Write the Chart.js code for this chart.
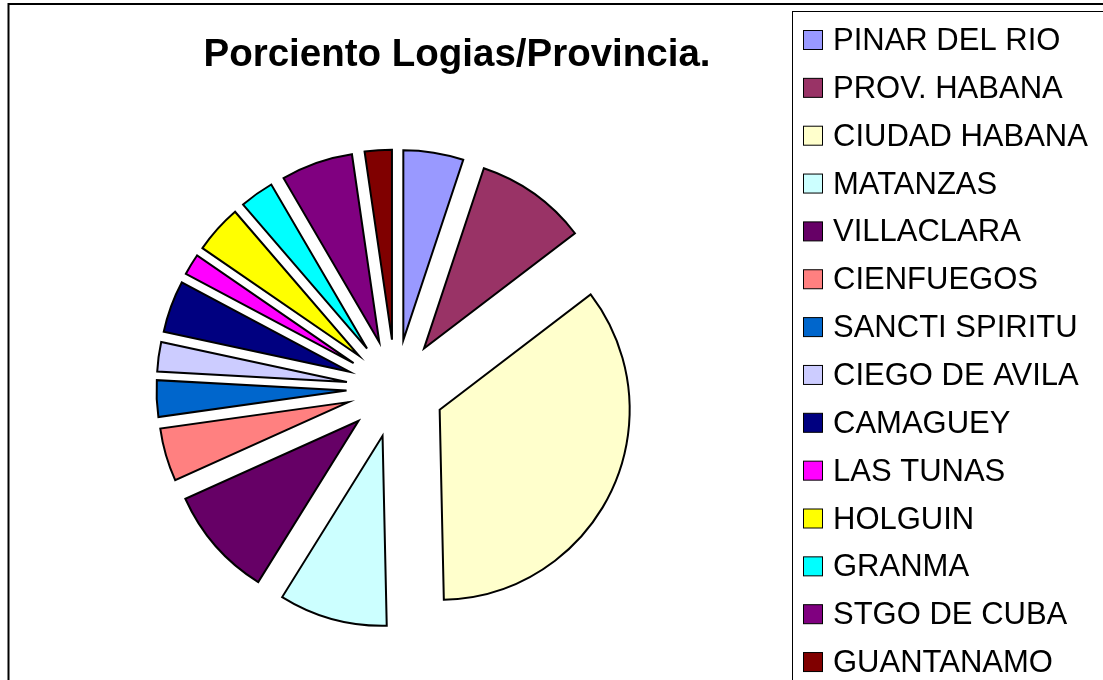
<!DOCTYPE html>
<html>
<head>
  <title>Porciento Logias/Provincia</title>
  <script src="https://cdn.jsdelivr.net/npm/chart.js"></script>
  <style>
    body { margin: 0; background: #fff; }
    canvas { display: block; }
  </style>
</head>
<body>
  <canvas id="pieChart" width="1103" height="680"></canvas>
  <script>
    // data (percent of lodges per province)
    const provinces = ['PINAR DEL RIO', 'PROV. HABANA', 'CIUDAD HABANA', 'MATANZAS', 'VILLACLARA',
      'CIENFUEGOS', 'SANCTI SPIRITU', 'CIEGO DE AVILA', 'CAMAGUEY', 'LAS TUNAS', 'HOLGUIN',
      'GRANMA', 'STGO DE CUBA', 'GUANTANAMO'];
    const percents = [5.1, 9.5, 35.0, 9.2, 9.4, 4.5, 3.1, 2.5, 4.4, 1.8, 4.1, 2.9, 6.1, 2.3];
    const sliceColors = ['#9999FF', '#993366', '#FFFFCC', '#CCFFFF', '#660066', '#FF8080', '#0066CC',
      '#CCCCFF', '#000080', '#FF00FF', '#FFFF00', '#00FFFF', '#800080', '#800000'];
    const chartTitle = 'Porciento Logias/Provincia.';

    const FONT = "'Liberation Sans', Arial, sans-serif";
    const explodeBy = 49;

    // excel style exploded pie: every slice pushed out by the same distance
    const explode = {
      id: 'explode',
      beforeDatasetDraw(chart, args) {
        const ctx = chart.ctx;
        args.meta.data.forEach(arc => {
          const o = arc.options;
          const mid = (arc.startAngle + arc.endAngle) / 2;
          const cx = arc.x + Math.cos(mid) * explodeBy;
          const cy = arc.y + Math.sin(mid) * explodeBy;
          ctx.save();
          ctx.beginPath();
          ctx.moveTo(cx, cy);
          ctx.arc(cx, cy, arc.outerRadius, arc.startAngle, arc.endAngle);
          ctx.closePath();
          ctx.fillStyle = o.backgroundColor;
          ctx.fill();
          ctx.lineWidth = o.borderWidth;
          ctx.strokeStyle = o.borderColor;
          ctx.lineJoin = 'miter';
          ctx.stroke();
          ctx.restore();
        });
        return false;
      }
    };

    // frame, title and boxed legend
    const decor = {
      id: 'decor',
      afterDraw(chart) {
        const ctx = chart.ctx;
        ctx.save();
        ctx.strokeStyle = '#000';
        ctx.lineWidth = 2;
        ctx.strokeRect(8.5, 4, 1200, 1200);
        ctx.lineWidth = 1;
        ctx.strokeRect(792.5, 11.5, 400, 800);

        ctx.fillStyle = '#000';
        ctx.font = 'bold 38.5px ' + FONT;
        ctx.textAlign = 'center';
        ctx.textBaseline = 'alphabetic';
        ctx.fillText(chartTitle, 457, 66);

        ctx.font = '31px ' + FONT;
        ctx.textAlign = 'left';
        chart.data.labels.forEach((label, i) => {
          const base = 50 + i * 47.85;
          ctx.fillStyle = chart.data.datasets[0].backgroundColor[i];
          ctx.fillRect(803.5, base - 19.5, 19, 19);
          ctx.strokeRect(803.5, base - 19.5, 19, 19);
          ctx.fillStyle = '#000';
          ctx.fillText(label, 833, base);
        });
        ctx.restore();
      }
    };

    new Chart(document.getElementById('pieChart'), {
      type: 'pie',
      data: {
        labels: provinces,
        datasets: [{
          data: percents,
          backgroundColor: sliceColors,
          borderColor: '#000',
          borderWidth: 2,
          radius: 190
        }]
      },
      options: {
        responsive: false,
        animation: false,
        events: [],
        layout: { padding: { left: 10, right: 322, top: 97, bottom: 0 } },
        plugins: {
          legend: { display: false },
          title: { display: false },
          tooltip: { enabled: false }
        }
      },
      plugins: [explode, decor]
    });
  </script>
</body>
</html>
